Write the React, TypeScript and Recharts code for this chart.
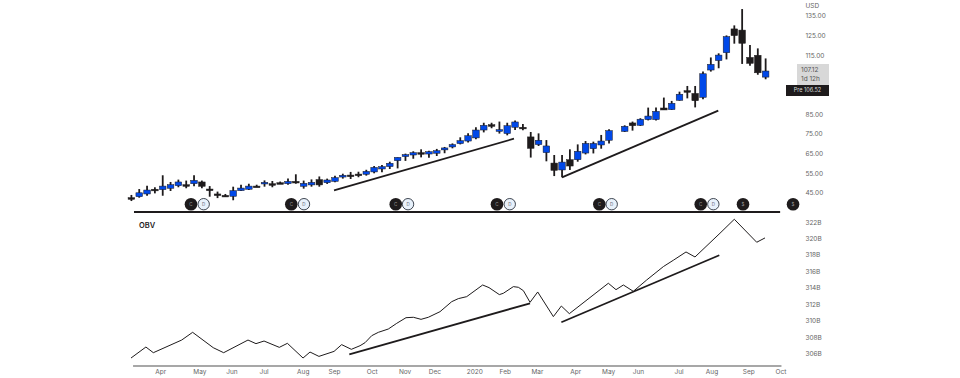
import { ComposedChart, Bar, Line, XAxis, YAxis, ReferenceLine, ReferenceDot } from "recharts";

const FONT = "Inter, 'Open Sans', sans-serif";
const BLUE = "#0048e8";
const DARK = "#1e1b1c";

const opens = [
  42.1, 42.6, 44.0, 46.4, 46.2, 46.9, 48.2, 48.7, 49.2, 50.1, 46.5, 44.0, 43.3, 42.8, 45.7, 46.4, 48.0, 49.2, 49.2, 49.7,
  49.2, 50.4, 47.9, 48.6, 51.3, 49.7, 50.4, 52.6, 53.6, 54.1, 54.0, 55.2, 56.7, 57.9, 60.9, 63.0, 63.8, 65.0, 64.3, 64.7,
  66.4, 67.9, 69.6, 70.9, 72.5, 76.5, 79.2, 75.8, 74.7, 77.9, 77.9, 73.0, 69.1, 65.0, 59.7, 56.2, 61.4, 61.4, 64.8, 67.0,
  68.9, 71.3, 75.8, 80.1, 78.9, 81.8, 81.8, 87.7, 86.9, 91.6, 96.5, 95.1, 93.1, 107.0, 111.8, 115.8, 127.9, 127.3, 113.4, 114.5,
  103.4,
];
const highs = [
  43.5, 46.5, 48.2, 47.4, 53.5, 50.1, 51.3, 50.8, 53.5, 50.8, 48.0, 45.2, 44.0, 47.7, 48.7, 49.2, 48.7, 50.9, 50.6, 50.3,
  51.9, 54.0, 50.8, 51.4, 52.9, 51.8, 53.3, 54.3, 55.2, 55.3, 56.3, 58.2, 58.7, 60.4, 62.6, 64.5, 65.7, 66.7, 66.0, 66.9,
  67.9, 69.7, 72.8, 74.8, 77.9, 80.2, 80.2, 80.8, 80.2, 81.4, 79.6, 75.5, 74.8, 71.4, 63.8, 63.8, 66.7, 69.2, 70.9, 70.6,
  74.0, 76.9, 78.9, 80.8, 82.5, 87.9, 87.9, 93.0, 91.3, 96.0, 98.9, 98.9, 106.2, 113.4, 115.5, 124.6, 129.7, 138.0, 119.7, 118.0,
  112.9,
];
const lows = [
  40.4, 42.1, 43.1, 44.3, 43.1, 45.5, 47.4, 46.9, 47.9, 46.9, 42.6, 41.9, 42.6, 40.8, 45.5, 46.0, 47.5, 47.7, 47.4, 49.1,
  48.7, 49.2, 46.7, 47.7, 47.7, 49.1, 49.9, 51.8, 51.6, 52.5, 53.3, 54.5, 55.0, 56.7, 57.0, 60.8, 61.9, 62.6, 62.4, 63.3,
  64.7, 67.2, 69.2, 70.1, 71.8, 75.3, 77.4, 74.7, 73.8, 76.5, 76.4, 62.5, 68.4, 60.6, 53.1, 52.5, 56.2, 60.4, 64.1, 64.6,
  67.0, 69.7, 75.5, 76.2, 78.6, 81.4, 81.4, 86.7, 86.7, 91.4, 92.6, 88.0, 92.1, 106.2, 107.9, 112.4, 120.4, 110.1, 109.2, 104.6,
  102.3,
];
const closes = [
  41.6, 44.6, 46.0, 45.7, 48.0, 48.7, 50.1, 48.0, 50.9, 47.9, 45.8, 43.3, 43.0, 45.7, 47.0, 48.0, 47.7, 49.9, 48.6, 49.4,
  50.4, 49.7, 49.4, 49.9, 48.6, 51.1, 52.3, 53.5, 52.9, 53.3, 55.5, 57.5, 57.9, 59.6, 62.6, 64.0, 65.0, 64.5, 65.5, 66.0,
  67.4, 69.1, 71.1, 73.6, 76.5, 78.9, 78.4, 76.7, 78.7, 80.6, 77.2, 67.2, 71.3, 68.4, 56.0, 60.2, 58.2, 65.7, 69.7, 69.7,
  70.9, 76.2, 78.4, 78.7, 82.0, 83.6, 86.0, 86.7, 90.1, 94.7, 95.8, 91.4, 105.1, 109.9, 114.6, 124.0, 124.5, 120.6, 110.4, 105.6,
  106.5,
];
// one week has no candle, so everything after it moves one slot along
const GAP_WEEK = 62;
const candles = opens.map((open, i) => ({
  week: i < GAP_WEEK ? i : i + 1,
  range: [lows[i], highs[i]],
  open,
  close: closes[i],
}));

const priceTicks = [45, 55, 65, 75, 85, 115, 125, 135, 140];

const obvWeeks = [
  0, 1.9, 2.85, 6.47, 7.87, 10.5, 11.83, 14.94, 15.96, 16.99, 18.94, 19.97, 21.97, 22.86, 24, 25.93, 26.9, 28.14, 29.25,
  29.89, 30.74, 31.59, 32.86, 33.93, 35.12, 36.06, 37.04, 37.97, 39.46, 40.96, 41.8, 42.87, 44.91, 45.72, 47.04, 47.55,
  48.83, 49.47, 50.11, 50.96, 51.94, 53.94, 54.96, 55.98, 60.96, 61.94, 62.88, 64.15, 65.86, 67.99, 69.26, 70.88, 72.03,
  75.22, 77.05, 79.91, 80.97,
];
const obvValues = [
  305.47, 306.81, 306.12, 307.66, 308.6, 306.73, 306.12, 307.66, 307.22, 307.54, 306.77, 307.26, 305.47, 306.2, 305.67,
  306.28, 307.1, 306.53, 306.97, 307.34, 308.19, 308.6, 309.0, 309.69, 310.38, 310.43, 310.18, 310.43, 311.11, 312.33,
  312.7, 312.94, 314.36, 314.04, 313.19, 313.35, 314.16, 314.08, 313.67, 312.25, 313.51, 310.51, 311.8, 310.87, 314.57,
  313.79, 314.36, 313.59, 314.97, 316.6, 317.37, 318.38, 317.77, 320.66, 322.36, 319.56, 320.09,
];
const obvData = obvWeeks.map((week, i) => ({ week, obv: obvValues[i] }));
const obvTicks = [306, 308, 310, 312, 314, 316, 318, 320, 322];

const monthLabels = ["Apr", "May", "Jun", "Jul", "Aug", "Sep", "Oct", "Nov", "Dec", "2020", "Feb", "Mar", "Apr", "May", "Jun", "Jul", "Aug", "Sep", "Oct"];
const monthWeeks = [3.8, 8.8, 12.9, 17, 22, 26, 30.8, 35, 38.8, 43.9, 47.8, 51.9, 56.8, 61, 64.8, 70, 74.2, 78.9, 83];

const priceTrends = [
  [{ x: 25.93, y: 45.86 }, { x: 48.91, y: 72.1 }],
  [{ x: 55.04, y: 52.47 }, { x: 75.0, y: 86.33 }],
];
const obvTrends = [
  [{ x: 27.88, y: 305.92 }, { x: 50.96, y: 312.13 }],
  [{ x: 54.96, y: 309.82 }, { x: 75.13, y: 317.98 }],
];

const darkMarkers = [7.66, 20.47, 33.81, 46.74, 59.81, 72.76];
const lightMarkers = [9.28, 22.09, 35.38, 48.37, 61.39, 74.37];
const dollarMarkers = [78.16, 84.55];

const X_DOMAIN: [number, number] = [-0.5, 86];
const PRICE_DOMAIN: [number, number] = [34.83, 142.6];
const OBV_DOMAIN: [number, number] = [304.5, 323];
const MARKER_Y = 38.8;

function Candle(props: any) {
  const { x, y, width, height, payload } = props;
  const [low, high] = payload.range;
  const pxPerUnit = height / (high - low);
  const top = y + (high - Math.max(payload.open, payload.close)) * pxPerUnit;
  const bodyHeight = Math.max(Math.abs(payload.open - payload.close) * pxPerUnit, 1.6);
  const color = payload.close > payload.open ? BLUE : DARK;
  const mid = x + width / 2;
  return (
    <g>
      <line x1={mid} x2={mid} y1={y} y2={y + height} stroke={DARK} strokeWidth={1.8} />
      <rect x={x} y={top} width={width} height={bodyHeight} fill={color} stroke={DARK} strokeWidth={0.5} />
    </g>
  );
}

function TextBox({ style, children }: { style: React.CSSProperties; children: React.ReactNode }) {
  return <div style={{ position: "absolute", fontFamily: FONT, fontSize: 6.5, lineHeight: "10px", ...style }}>{children}</div>;
}

export default function App() {
  return (
    <div style={{ position: "absolute", left: 0, top: 0, width: 960, height: 378, background: "#fff", overflow: "hidden" }}>
      <div style={{ position: "absolute", left: 0, top: 0 }}>
        <ComposedChart width={960} height={220} data={candles} margin={{ top: 0, right: 95.6, bottom: 8, left: 127.1 }}>
          <XAxis dataKey="week" type="number" domain={X_DOMAIN} hide />
          <YAxis
            orientation="right"
            width={60}
            domain={PRICE_DOMAIN}
            allowDataOverflow
            ticks={priceTicks}
            interval={0}
            axisLine={false}
            tickLine={false}
            tickSize={0}
            tickMargin={1}
            tick={{ fontSize: 6.5, fill: "#666", fontFamily: FONT, dy: 1 }}
            tickFormatter={(v: number) => (v === 140 ? "USD" : v.toFixed(2))}
          />
          <Bar dataKey="range" barSize={6.6} shape={Candle} isAnimationActive={false} />
          {priceTrends.map((segment, i) => (
            <ReferenceLine key={i} segment={segment} stroke={DARK} strokeWidth={1.8} />
          ))}
          <ReferenceLine segment={[{ x: 0.38, y: PRICE_DOMAIN[0] }, { x: 82.9, y: PRICE_DOMAIN[0] }]} stroke={DARK} strokeWidth={2} />
          {darkMarkers.map((x) => (
            <ReferenceDot key={x} x={x} y={MARKER_Y} r={6.3} fill={DARK} stroke="none"
              label={{ value: "C", position: "center", fontSize: 4.5, fill: "#999", fontFamily: FONT }} />
          ))}
          {lightMarkers.map((x) => (
            <ReferenceDot key={x} x={x} y={MARKER_Y} r={5.7} fill="#e8f1fb" stroke="#2b3340" strokeWidth={0.9}
              label={{ value: "D", position: "center", fontSize: 4.5, fill: "#667", fontFamily: FONT }} />
          ))}
          {dollarMarkers.map((x) => (
            <ReferenceDot key={x} x={x} y={MARKER_Y} r={6.3} fill={DARK} stroke="none"
              label={{ value: "$", position: "center", fontSize: 4.5, fill: "#999", fontFamily: FONT }} />
          ))}
        </ComposedChart>
      </div>

      <div style={{ position: "absolute", left: 0, top: 214 }}>
        <ComposedChart width={960} height={164} data={obvData} margin={{ top: 0, right: 95.6, bottom: 0, left: 127.1 }}>
          <XAxis
            dataKey="week"
            type="number"
            domain={X_DOMAIN}
            ticks={monthWeeks}
            interval={0}
            height={12}
            axisLine={false}
            tickLine={false}
            tickSize={0}
            tickMargin={3}
            tick={{ fontSize: 6.5, fill: "#666", fontFamily: FONT }}
            tickFormatter={(v: number) => monthLabels[monthWeeks.indexOf(v)]}
          />
          <YAxis
            orientation="right"
            width={60}
            domain={OBV_DOMAIN}
            allowDataOverflow
            ticks={obvTicks}
            interval={0}
            axisLine={false}
            tickLine={false}
            tickSize={0}
            tickMargin={1}
            tick={{ fontSize: 6.5, fill: "#666", fontFamily: FONT }}
            tickFormatter={(v: number) => `${v}B`}
          />
          <Line dataKey="obv" type="linear" stroke={DARK} strokeWidth={1} dot={false} isAnimationActive={false} />
          {obvTrends.map((segment, i) => (
            <ReferenceLine key={i} segment={segment} stroke={DARK} strokeWidth={1.8} />
          ))}
          <ReferenceLine segment={[{ x: 0.26, y: OBV_DOMAIN[0] }, { x: 83.07, y: OBV_DOMAIN[0] }]} stroke="#8a8a8a" strokeWidth={1.5} />
        </ComposedChart>
      </div>

      <TextBox style={{ left: 139, top: 220, fontSize: 7.5, fontWeight: 600, color: DARK, lineHeight: "11px" }}>OBV</TextBox>
      <div style={{ position: "absolute", left: 797, top: 64, width: 32, height: 21, background: "#d8d8d8" }} />
      <TextBox style={{ left: 801, top: 65, color: "#555" }}>107.12</TextBox>
      <TextBox style={{ left: 801, top: 74, color: "#555" }}>1d 12h</TextBox>
      <TextBox style={{ left: 786, top: 85, width: 43, height: 11, background: DARK, color: "#ddd", textAlign: "center", fontSize: 5.5, lineHeight: "11px" }}>Pre 106.52</TextBox>
    </div>
  );
}
